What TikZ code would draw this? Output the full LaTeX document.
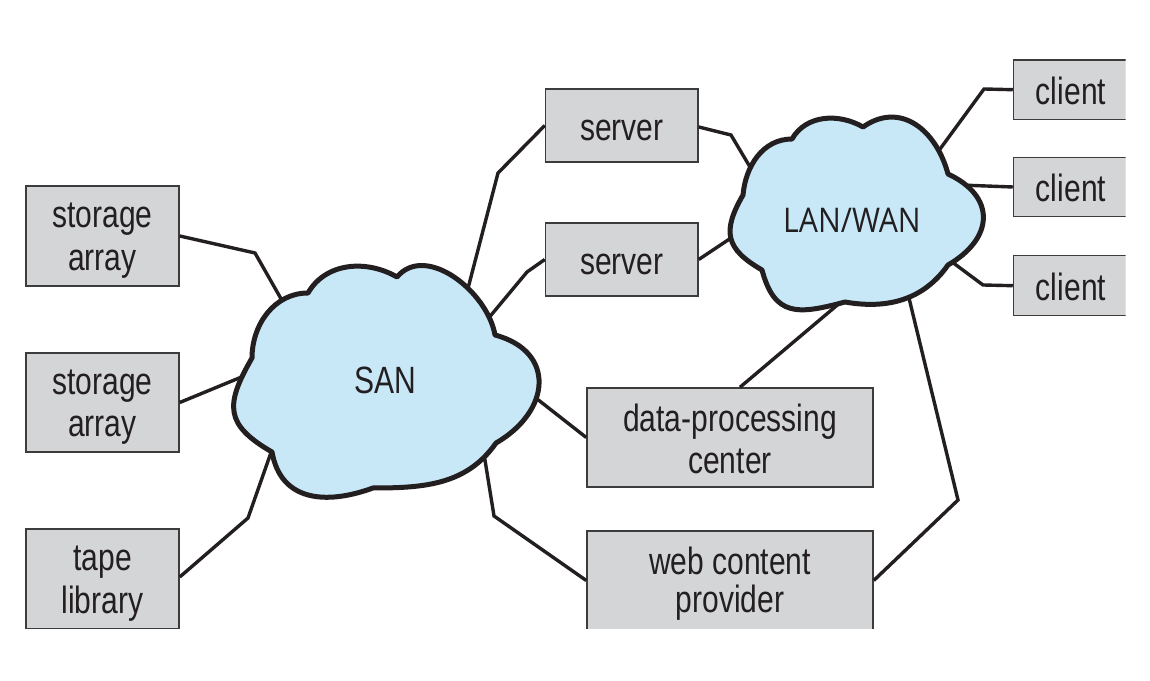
\documentclass[tikz,border=0pt]{standalone}
\usepackage{fontspec}
\newfontfamily\boxfont[FakeStretch=0.79]{Liberation Sans}
\newfontfamily\lanfont[FakeStretch=0.89]{Open Sans}
\newcommand\bxs{\rule[-4pt]{0pt}{38pt}}
\definecolor{boxfill}{RGB}{212,213,215}
\definecolor{boxline}{RGB}{60,60,60}
\definecolor{ink}{RGB}{35,31,32}
\definecolor{cloudfill}{RGB}{200,232,248}
\begin{document}
\begin{tikzpicture}[x=1pt,y=1pt,
  box/.style={draw=boxline, line width=1.5pt, fill=boxfill, inner sep=0pt, align=center,
    font=\boxfont\fontsize{38}{38}\selectfont, text=ink},
  conn/.style={draw=ink, line width=3.4pt, line join=miter},
  cloudline/.style={draw=ink, fill=cloudfill, line width=5pt, line join=round},
  cloudtext/.style={text=ink, inner sep=0pt}]
\useasboundingbox (0,0) rectangle (1150,680);
\fill[white] (0,0) rectangle (1150,680);
\begin{scope}
\clip (0,52) rectangle (1125.5,680);
% boxes
\node[box, minimum width=153pt, minimum height=100pt] (sa1) at (102.5,444) {\bxs storage\\\bxs array};
\node[box, minimum width=153pt, minimum height=99pt] (sa2) at (102.5,277.5) {\bxs storage\\\bxs array};
\node[box, minimum width=153pt, minimum height=100pt] (tape) at (102.5,101) {\bxs tape\\\bxs library};
\node[box, minimum width=152.5pt, minimum height=73pt] (srv1) at (621.75,554.5) {\bxs server};
\node[box, minimum width=152.5pt, minimum height=73pt] (srv2) at (621.75,420.5) {\bxs server};
\node[box, minimum width=286pt, minimum height=99pt] (dpc) at (730,242.5) {\bxs data-processing\\\bxs center};
\node[box, minimum width=286pt, minimum height=99pt] (web) at (730,99.5) {\bxs web content\\\bxs provider};
\node[box, minimum width=115pt, minimum height=59.3pt] (c1) at (1071,590.3) {\bxs client};
\node[box, minimum width=115pt, minimum height=59.4pt] (c2) at (1071,493) {\bxs client};
\node[box, minimum width=115pt, minimum height=60pt] (c3) at (1071,394.3) {\bxs client};
% cloud ports
\coordinate (san-sa1) at (284,376);
\coordinate (san-sa2) at (244,304);
\coordinate (san-tape) at (274,236);
\coordinate (san-srv1) at (466,384);
\coordinate (san-srv2) at (487,360);
\coordinate (san-dpc) at (532,285);
\coordinate (san-web) at (484,226);
\coordinate (lan-srv1) at (753,508);
\coordinate (lan-srv2) at (740,448);
\coordinate (lan-c1) at (932,520);
\coordinate (lan-c2) at (960,495);
\coordinate (lan-c3) at (948,421);
\coordinate (lan-dpc) at (848,384);
\coordinate (lan-web) at (908,386);
% connectors
\draw[conn] (sa1.east) -- (255,427) -- (san-sa1);
\draw[conn] (sa2.east) -- (san-sa2);
\draw[conn] ([yshift=2pt]tape.east) -- (248,162) -- (san-tape);
\draw[conn] (san-srv1) -- (498,507) -- (srv1.west);
\draw[conn] (san-srv2) -- (527,408) -- (srv2.west);
\draw[conn] ([yshift=-1.5pt]srv1.east) -- (731,545) -- (lan-srv1);
\draw[conn] (srv2.east) -- (lan-srv2);
\draw[conn] (lan-c1) -- (984,591) -- (c1.west);
\draw[conn] (lan-c2) -- (c2.west);
\draw[conn] (lan-c3) -- (983,395) -- (c3.west);
\draw[conn] (lan-dpc) -- ([xshift=10pt]dpc.north);
\draw[conn] (lan-web) -- (958,180) -- (web.east);
\draw[conn] (san-dpc) -- (dpc.west);
\draw[conn] (san-web) -- (494,164) -- (web.west);
% clouds
\draw[cloudline] (252,322) to[out=90,in=180] (308,387) to[out=60,in=150] (397,403)
  to[out=50,in=100] (495,345) to[out=-15,in=30,looseness=1.5] (496,237)
  to[out=235,in=0] (373,192) to[out=200,in=-80,looseness=1.2] (272,228)
  to[out=150,in=240,looseness=1.45] (252,322) -- cycle;
\draw[cloudline] (743,485) to[out=85,in=180] (792,541) to[out=60,in=150] (863,553)
  to[out=35,in=105,looseness=1.2] (948,506) to[out=-25,in=30,looseness=1.5] (948,415)
  to[out=235,in=-10] (845,378) to[out=195,in=-75,looseness=1.4] (762,410)
  to[out=150,in=240,looseness=1.4] (743,485) -- cycle;
\node[cloudtext, font=\boxfont\fontsize{38}{40}\selectfont] (san) at (385,300) {SAN};
\node[cloudtext, font=\lanfont\fontsize{34}{40}\selectfont] (lan) at (852,460) {LAN/WAN};
\end{scope}
\end{tikzpicture}
\end{document}
